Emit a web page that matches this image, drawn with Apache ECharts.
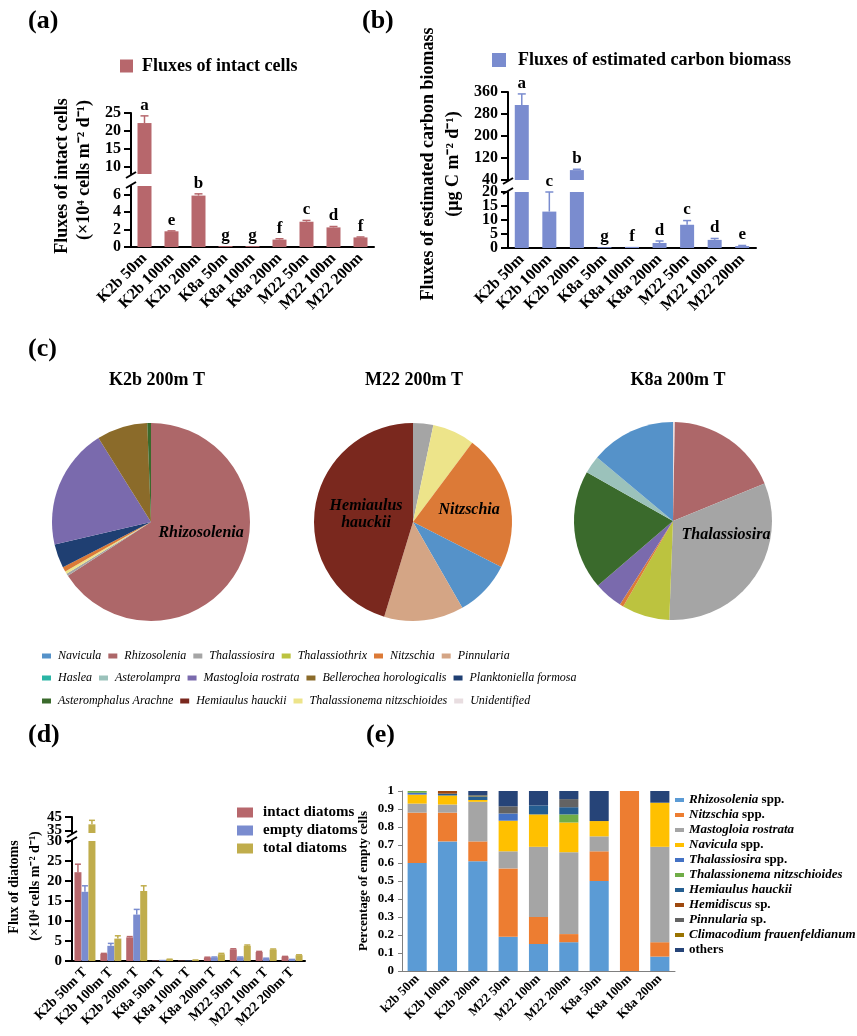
<!DOCTYPE html>
<html lang="en">
<head>
<meta charset="utf-8">
<title>Diatom fluxes</title>
<script src="https://cdn.jsdelivr.net/npm/echarts@6.0.0/dist/echarts.min.js"></script>
<style>
  html, body { margin: 0; padding: 0; background: #fff; }
  #chart { width: 857px; height: 1036px; }
</style>
</head>
<body>
<div id="chart"></div>
<script>
// ---------- data: panels (a) and (b) ----------
const stations = ['K2b 50m', 'K2b 100m', 'K2b 200m', 'K8a 50m', 'K8a 100m', 'K8a 200m', 'M22 50m', 'M22 100m', 'M22 200m'];
const intactCells = [22.2, 1.8, 5.9, 0.1, 0.1, 0.85, 2.9, 2.25, 1.1];
const intactCellsErr = [2.0, 0.05, 0.2, 0, 0, 0.1, 0.15, 0.1, 0.05];
const intactCellsLetters = ['a', 'e', 'b', 'g', 'g', 'f', 'c', 'd', 'f'];
const carbonBiomass = [313, 13, 76, 0.3, 0.4, 1.8, 8.3, 2.9, 0.7];
const carbonBiomassErr = [40, 7, 3, 0, 0, 0.7, 1.5, 0.5, 0.2];
const carbonBiomassLetters = ['a', 'c', 'b', 'g', 'f', 'd', 'c', 'd', 'e'];
const ticksAUpper = [10, 15, 20, 25];
const ticksALower = [0, 2, 4, 6];
const ticksBUpper = [40, 120, 200, 280, 360];
const ticksBLower = [0, 5, 10, 15, 20];

// ---------- data: panel (c) pies (share of cells, %) ----------
const pieK2bNames = ['Rhizosolenia', 'Thalassiosira', 'Thalassionema nitzschioides', 'Nitzschia', 'Planktoniella formosa', 'Mastogloia rostrata', 'Bellerochea horologicalis', 'Asteromphalus Arachne', 'Haslea'];
const pieK2bValues = [65.8, 0.4, 0.4, 0.8, 3.9, 19.7, 8.3, 0.6, 0];
const pieK2bLabels = ['Rhizosolenia'];
const pieM22Names = ['Thalassiosira', 'Thalassionema nitzschioides', 'Nitzschia', 'Navicula', 'Pinnularia', 'Hemiaulus hauckii'];
const pieM22Values = [3.3, 6.9, 22.3, 9.2, 13.0, 45.3];
const pieM22Labels = ['Nitzschia', 'Hemiaulus hauckii'];
const pieK8aNames = ['Unidentified', 'Rhizosolenia', 'Thalassiosira', 'Thalassiothrix', 'Nitzschia', 'Mastogloia rostrata', 'Asteromphalus Arachne', 'Asterolampra', 'Navicula'];
const pieK8aValues = [0.3, 18.5, 31.8, 7.8, 0.6, 4.7, 19.5, 2.9, 13.9];
const pieK8aLabels = ['Thalassiosira'];
const pieLegendRow1 = ['Navicula', 'Rhizosolenia', 'Thalassiosira', 'Thalassiothrix', 'Nitzschia', 'Pinnularia'];
const pieLegendRow2 = ['Haslea', 'Asterolampra', 'Mastogloia rostrata', 'Bellerochea horologicalis', 'Planktoniella formosa'];
const pieLegendRow3 = ['Asteromphalus Arachne', 'Hemiaulus hauckii', 'Thalassionema nitzschioides', 'Unidentified'];

// ---------- data: panel (d) ----------
const diatomStations = ['K2b 50m T', 'K2b 100m T', 'K2b 200m T', 'K8a 50m T', 'K8a 100m T', 'K8a 200m T', 'M22 50m T', 'M22 100m T', 'M22 200m T'];
const intactDiatoms = [22.2, 1.8, 5.9, 0.1, 0.1, 0.85, 2.9, 2.25, 1.1];
const intactDiatomsErr = [2.0, 0.1, 0.2, 0, 0, 0.1, 0.15, 0.15, 0.05];
const emptyDiatoms = [17.3, 3.8, 11.6, 0.3, 0.1, 0.9, 0.9, 0.6, 0.35];
const emptyDiatomsErr = [1.5, 0.6, 1.3, 0, 0, 0.1, 0.1, 0.1, 0.05];
const totalDiatoms = [39.5, 5.6, 17.5, 0.4, 0.2, 1.7, 3.8, 2.85, 1.45];
const totalDiatomsErr = [3.0, 0.7, 1.3, 0.05, 0.05, 0.2, 0.2, 0.15, 0.1];
const ticksDUpper = [35, 45];
const ticksDLower = [0, 5, 10, 15, 20, 25, 30];

// ---------- data: panel (e) share of empty cells ----------
const emptyStations = ['k2b 50m', 'K2b 100m', 'K2b 200m', 'M22 50m', 'M22 100m', 'M22 200m', 'K8a 50m', 'K8a 100m', 'K8a 200m'];
const rhizosoleniaSpp = [0.60, 0.72, 0.61, 0.19, 0.15, 0.16, 0.50, 0, 0.08];
const nitzschiaSpp = [0.28, 0.16, 0.11, 0.38, 0.15, 0.045, 0.165, 1.0, 0.08];
const mastogloiaRostrata = [0.05, 0.045, 0.22, 0.095, 0.39, 0.455, 0.083, 0, 0.53];
const naviculaSpp = [0.05, 0.05, 0.01, 0.17, 0.18, 0.165, 0.085, 0, 0.245];
const thalassiosiraSpp = [0.01, 0, 0, 0.04, 0, 0, 0, 0, 0];
const thalassionemaNitz = [0.01, 0, 0, 0, 0, 0.045, 0, 0, 0];
const hemiaulusHauckii = [0, 0.01, 0.02, 0, 0.05, 0.04, 0, 0, 0];
const hemidiscusSp = [0, 0.015, 0, 0, 0, 0, 0, 0, 0];
const pinnulariaSp = [0, 0, 0, 0.04, 0, 0.045, 0, 0, 0];
const climacodium = [0, 0, 0.005, 0, 0, 0, 0, 0, 0];
const othersShare = [0, 0, 0.025, 0.085, 0.08, 0.045, 0.167, 0, 0.065];
const emptyNames = ['Rhizosolenia spp.', 'Nitzschia spp.', 'Mastogloia rostrata', 'Navicula spp.', 'Thalassiosira spp.', 'Thalassionema nitzschioides', 'Hemiaulus hauckii', 'Hemidiscus sp.', 'Pinnularia sp.', 'Climacodium frauenfeldianum', 'others'];
const emptySeries = [rhizosoleniaSpp, nitzschiaSpp, mastogloiaRostrata, naviculaSpp, thalassiosiraSpp, thalassionemaNitz, hemiaulusHauckii, hemidiscusSp, pinnulariaSp, climacodium, othersShare];

// ---------- styles / layout ----------
const SERIF = '"Liberation Serif", "Times New Roman", serif';
const RED = '#b7676c';
const BLUE = '#7a8ccf';
const GOLD = '#c0ad4c';
const emptyColors = ['#5b9bd5', '#ed7d31', '#a5a5a5', '#ffc000', '#4472c4', '#70ad47', '#255e91', '#9e480e', '#636363', '#997300', '#264478'];
const pieColors = {
  'Navicula': '#5592c9', 'Rhizosolenia': '#ad6769', 'Thalassiosira': '#a5a5a5', 'Thalassiothrix': '#bcc33f',
  'Nitzschia': '#dc7a37', 'Pinnularia': '#d4a585', 'Haslea': '#2bb5a5', 'Asterolampra': '#9bc2bb',
  'Mastogloia rostrata': '#7a6aad', 'Bellerochea horologicalis': '#8b6b2a', 'Planktoniella formosa': '#1f3f72',
  'Asteromphalus Arachne': '#3a6a2c', 'Hemiaulus hauckii': '#7a281e', 'Thalassionema nitzschioides': '#ede48a',
  'Unidentified': '#e8dde0'
};

const A = { left: 131, width: 243, upTop: 113, upH: 61, upMin: 8, upMax: 25, lowTop: 186, lowH: 61, lowMax: 7 };
const B = { left: 508, width: 248, upTop: 92, upH: 88, upMin: 40, upMax: 360, lowTop: 192, lowH: 56, lowMax: 20 };
const D = { left: 72, width: 233, upTop: 817, upH: 16, upMin: 33, upMax: 45, lowTop: 841, lowH: 120, lowMax: 30 };
const E = { left: 402, width: 273, top: 791, height: 180 };

const boldFont = (size) => ({ color: '#000', fontFamily: SERIF, fontWeight: 'bold', fontSize: size });
const evens = (arr) => arr.filter((_, k) => k % 2 === 0);
const odds = (arr) => arr.filter((_, k) => k % 2 === 1);

function gpX(gridIndex, cats, fontSize) {
  return {
    type: 'category', gridIndex, data: cats,
    axisLine: { lineStyle: { color: '#000', width: 2 } },
    axisTick: { alignWithLabel: true, length: 6, lineStyle: { color: '#000', width: 2 } },
    axisLabel: Object.assign({ interval: 0, rotate: 45, margin: 9 }, boldFont(fontSize))
  };
}

function hiddenX(gridIndex, cats) {
  return { type: 'category', gridIndex, data: cats, show: false };
}

// GraphPad-like value axis. ECharts thins labels that sit closer than their height,
// so every other label goes on a second, line-less axis in the same grid.
function gpY(gridIndex, min, max, ticks, fontSize) {
  return {
    type: 'value', gridIndex, min, max, position: 'left',
    axisLine: { show: true, lineStyle: { color: '#000', width: 2 } },
    axisTick: { show: true, length: 7, customValues: ticks, lineStyle: { color: '#000', width: 2 } },
    axisLabel: Object.assign({ customValues: evens(ticks), margin: 10 }, boldFont(fontSize)),
    splitLine: { show: false }
  };
}

function gpYOddLabels(gridIndex, min, max, ticks, fontSize) {
  return {
    type: 'value', gridIndex, min, max, position: 'left',
    axisLine: { show: false }, axisTick: { show: false }, splitLine: { show: false },
    axisLabel: Object.assign({ customValues: odds(ticks), margin: 10 }, boldFont(fontSize))
  };
}

function bars(name, values, axis, color, width, keep) {
  return {
    type: 'bar', name, xAxisIndex: axis, yAxisIndex: axis, barWidth: width, barGap: '0%',
    data: values.map((v) => (keep(v) ? v : '-')),
    itemStyle: { color }, clip: true, silent: true
  };
}

// error bar (upper side only, GraphPad style) plus significance letter
function errorBars(values, errs, letters, axis, keep, color, offset, cap) {
  return {
    type: 'custom', xAxisIndex: axis, yAxisIndex: axis, z: 5, silent: true, clip: false,
    data: values.map((v, i) => [i, v]),
    encode: { x: 0, y: 1 },
    renderItem(params, api) {
      const i = params.dataIndex;
      const v = values[i];
      const e = errs[i];
      if (!keep(v)) return null;
      const base = api.coord([i, v]);
      const top = api.coord([i, v + e]);
      const x = base[0] + offset;
      const children = [];
      if (e > 0) {
        children.push({ type: 'line', shape: { x1: x, y1: base[1], x2: x, y2: top[1] }, style: { stroke: color, lineWidth: 1.5 } });
        children.push({ type: 'line', shape: { x1: x - cap, y1: top[1], x2: x + cap, y2: top[1] }, style: { stroke: color, lineWidth: 1.5 } });
      }
      if (letters) {
        children.push({
          type: 'text', x, y: top[1] - 2,
          style: { text: letters[i], fill: '#000', font: 'bold 17px ' + SERIF, align: 'center', verticalAlign: 'bottom', textAlign: 'center', textVerticalAlign: 'bottom' }
        });
      }
      return { type: 'group', children };
    }
  };
}

function pieSeries(names, values, labelled, center, shift) {
  return {
    type: 'pie', center, radius: 99, startAngle: 90, clockwise: true, silent: true,
    data: names.map((n, k) => ({
      name: n, value: values[k],
      itemStyle: { color: pieColors[n] },
      label: { show: labelled.includes(n) }
    })),
    label: {
      position: 'inside', formatter: (p) => p.name.replace(' ', '\n'),
      color: '#000', fontFamily: SERIF, fontStyle: 'italic', fontWeight: 'bold', fontSize: 16, lineHeight: 17
    },
    labelLayout: shift,
    labelLine: { show: false },
    itemStyle: { borderWidth: 0 }
  };
}

function text(str, x, y, font, align, rotate) {
  return {
    type: 'text', x, y, rotation: rotate ? Math.PI / 2 : 0,
    style: { text: str, font: font + ' ' + SERIF, fill: '#000', align: align || 'left', verticalAlign: 'middle', textAlign: align || 'left', textVerticalAlign: 'middle' }
  };
}

function breakMarks(x, yUp, yLow) {
  return [yUp + 1, yLow - 1].map((y) => ({
    type: 'line', shape: { x1: x - 5, y1: y + 3, x2: x + 5, y2: y - 3 }, style: { stroke: '#000', lineWidth: 2 }
  }));
}

const inUpper = (lim) => (v) => v > lim.upMin;
const inLower = (lim) => (v) => v <= lim.lowMax;
const always = () => true;

const series = [
  // (a)
  bars('Fluxes of intact cells', intactCells, 0, RED, 14, inUpper(A)),
  bars('Fluxes of intact cells', intactCells, 1, RED, 14, always),
  errorBars(intactCells, intactCellsErr, intactCellsLetters, 0, inUpper(A), RED, 0, 4),
  errorBars(intactCells, intactCellsErr, intactCellsLetters, 1, inLower(A), RED, 0, 4),
  // (b)
  bars('Fluxes of estimated carbon biomass', carbonBiomass, 2, BLUE, 14, inUpper(B)),
  bars('Fluxes of estimated carbon biomass', carbonBiomass, 3, BLUE, 14, always),
  errorBars(carbonBiomass, carbonBiomassErr, carbonBiomassLetters, 2, inUpper(B), BLUE, 0, 4),
  errorBars(carbonBiomass, carbonBiomassErr, carbonBiomassLetters, 3, inLower(B), BLUE, 0, 4),
  // (c)
  pieSeries(pieK2bNames, pieK2bValues, pieK2bLabels, [151, 522], { dx: 4, dy: -14 }),
  pieSeries(pieM22Names, pieM22Values, pieM22Labels, [413, 522], { dx: 5, dy: 0 }),
  pieSeries(pieK8aNames, pieK8aValues, pieK8aLabels, [673, 521], { dx: 10, dy: -16 }),
  // (d)
  bars('intact diatoms', intactDiatoms, 4, RED, 7, inUpper(D)),
  bars('empty diatoms', emptyDiatoms, 4, BLUE, 7, inUpper(D)),
  bars('total diatoms', totalDiatoms, 4, GOLD, 7, inUpper(D)),
  bars('intact diatoms', intactDiatoms, 5, RED, 7, always),
  bars('empty diatoms', emptyDiatoms, 5, BLUE, 7, always),
  bars('total diatoms', totalDiatoms, 5, GOLD, 7, always),
  errorBars(totalDiatoms, totalDiatomsErr, null, 4, inUpper(D), GOLD, 7, 3),
  errorBars(intactDiatoms, intactDiatomsErr, null, 5, inLower(D), RED, -7, 3),
  errorBars(emptyDiatoms, emptyDiatomsErr, null, 5, inLower(D), BLUE, 0, 3),
  errorBars(totalDiatoms, totalDiatomsErr, null, 5, inLower(D), GOLD, 7, 3)
];

// (e) stacked shares
emptyNames.forEach((name, k) => {
  series.push({
    type: 'bar', name, stack: 'empty', xAxisIndex: 6, yAxisIndex: 6, barWidth: '63%', silent: true,
    data: emptySeries[k], itemStyle: { color: emptyColors[k] }
  });
});

const pieLegend = (row, top) => ({
  data: row.map((n) => ({ name: n, icon: 'rect', itemStyle: { color: pieColors[n] } })),
  left: 37, top, itemWidth: 9, itemHeight: 5, itemGap: 7, selectedMode: false,
  textStyle: { color: '#000', fontFamily: SERIF, fontStyle: 'italic', fontSize: 12, padding: [0, 0, 0, 2] }
});

const richItalic = { fontFamily: SERIF, fontWeight: 'bold', fontStyle: 'italic', fontSize: 13, lineHeight: 14, color: '#000' };
const richNormal = { fontFamily: SERIF, fontWeight: 'bold', fontSize: 13, lineHeight: 14, color: '#000' };

const option = {
  animation: false,
  backgroundColor: '#fff',
  grid: [
    { left: A.left, top: A.upTop, width: A.width, height: A.upH },
    { left: A.left, top: A.lowTop, width: A.width, height: A.lowH },
    { left: B.left, top: B.upTop, width: B.width, height: B.upH },
    { left: B.left, top: B.lowTop, width: B.width, height: B.lowH },
    { left: D.left, top: D.upTop, width: D.width, height: D.upH },
    { left: D.left, top: D.lowTop, width: D.width, height: D.lowH },
    { left: E.left, top: E.top, width: E.width, height: E.height }
  ],
  xAxis: [
    hiddenX(0, stations),
    gpX(1, stations, 16),
    hiddenX(2, stations),
    gpX(3, stations, 16),
    hiddenX(4, diatomStations),
    gpX(5, diatomStations, 14),
    {
      type: 'category', gridIndex: 6, data: emptyStations,
      axisLine: { lineStyle: { color: '#7f7f7f', width: 1 } },
      axisTick: { length: 4, lineStyle: { color: '#7f7f7f' } },
      axisLabel: Object.assign({ interval: 0, rotate: 45, margin: 6 }, boldFont(13))
    }
  ],
  yAxis: [
    gpY(0, A.upMin, A.upMax, ticksAUpper, 16),
    gpY(1, 0, A.lowMax, ticksALower, 16),
    gpY(2, B.upMin, B.upMax, ticksBUpper, 16),
    gpY(3, 0, B.lowMax, ticksBLower, 16),
    gpY(4, D.upMin, D.upMax, ticksDUpper, 15),
    gpY(5, 0, D.lowMax, ticksDLower, 15),
    {
      type: 'value', gridIndex: 6, min: 0, max: 1, interval: 0.1,
      name: 'Percentage of empty cells', nameLocation: 'middle', nameGap: 32,
      nameTextStyle: boldFont(13),
      axisLine: { show: true, lineStyle: { color: '#7f7f7f', width: 1 } },
      axisTick: { show: true, length: 4, lineStyle: { color: '#7f7f7f' } },
      axisLabel: Object.assign({ margin: 8 }, boldFont(13)),
      splitLine: { show: false }
    },
    gpYOddLabels(0, A.upMin, A.upMax, ticksAUpper, 16),
    gpYOddLabels(1, 0, A.lowMax, ticksALower, 16),
    gpYOddLabels(2, B.upMin, B.upMax, ticksBUpper, 16),
    gpYOddLabels(3, 0, B.lowMax, ticksBLower, 16),
    gpYOddLabels(4, D.upMin, D.upMax, ticksDUpper, 15),
    gpYOddLabels(5, 0, D.lowMax, ticksDLower, 15)
  ],
  legend: [
    {
      data: [{ name: 'Fluxes of intact cells', icon: 'rect' }], left: 115, top: 52,
      itemWidth: 13, itemHeight: 13, selectedMode: false,
      textStyle: Object.assign({ padding: [0, 0, 0, 4] }, boldFont(18))
    },
    {
      data: [{ name: 'Fluxes of estimated carbon biomass', icon: 'rect' }], left: 487, top: 46,
      itemWidth: 14, itemHeight: 14, selectedMode: false,
      textStyle: Object.assign({ padding: [0, 0, 0, 7] }, boldFont(18))
    },
    pieLegend(pieLegendRow1, 645),
    pieLegend(pieLegendRow2, 667),
    pieLegend(pieLegendRow3, 690),
    {
      data: ['intact diatoms', 'empty diatoms', 'total diatoms'].map((n) => ({ name: n, icon: 'rect' })),
      orient: 'vertical', left: 232, top: 800, itemWidth: 16, itemHeight: 10, itemGap: 3, selectedMode: false,
      textStyle: Object.assign({ padding: [0, 0, 0, 5] }, boldFont(15))
    },
    {
      data: emptyNames.map((n, k) => ({ name: n, icon: 'rect', itemStyle: { color: emptyColors[k] } })),
      orient: 'vertical', left: 670, top: 788, itemWidth: 9, itemHeight: 4, itemGap: 1, selectedMode: false,
      formatter: (name) => {
        if (name === 'others') return '{n|others}';
        const m = name.match(/^(.*?)( spp?\.)$/);
        return m ? '{i|' + m[1] + '}{n|' + m[2] + '}' : '{i|' + name + '}';
      },
      textStyle: { lineHeight: 14, rich: { i: richItalic, n: richNormal } }
    }
  ],
  graphic: [
    text('(a)', 28, 21, 'bold 26px', 'left'),
    text('(b)', 362, 21, 'bold 26px', 'left'),
    text('(c)', 28, 349, 'bold 26px', 'left'),
    text('(d)', 28, 735, 'bold 26px', 'left'),
    text('(e)', 366, 735, 'bold 26px', 'left'),
    text('K2b 200m T', 157, 380, 'bold 18px', 'center'),
    text('M22 200m T', 414, 380, 'bold 18px', 'center'),
    text('K8a 200m T', 678, 380, 'bold 18px', 'center'),
    text('Fluxes of intact cells', 62, 176, 'bold 18px', 'center', true),
    text('(×10⁴ cells m⁻² d⁻¹)', 84, 170, 'bold 18px', 'center', true),
    text('Fluxes of estimated carbon biomass', 428, 164, 'bold 18px', 'center', true),
    text('(μg C m⁻² d⁻¹)', 453, 164, 'bold 18px', 'center', true),
    text('Flux of diatoms', 14, 887, 'bold 14px', 'center', true),
    text('(×10⁴ cells m⁻² d⁻¹)', 35, 886, 'bold 14px', 'center', true)
  ].concat(
    breakMarks(A.left, A.upTop + A.upH, A.lowTop),
    breakMarks(B.left, B.upTop + B.upH, B.lowTop),
    breakMarks(D.left, D.upTop + D.upH, D.lowTop)
  ),
  series
};

const chart = echarts.init(document.getElementById('chart'));
chart.setOption(option);
</script>
</body>
</html>
